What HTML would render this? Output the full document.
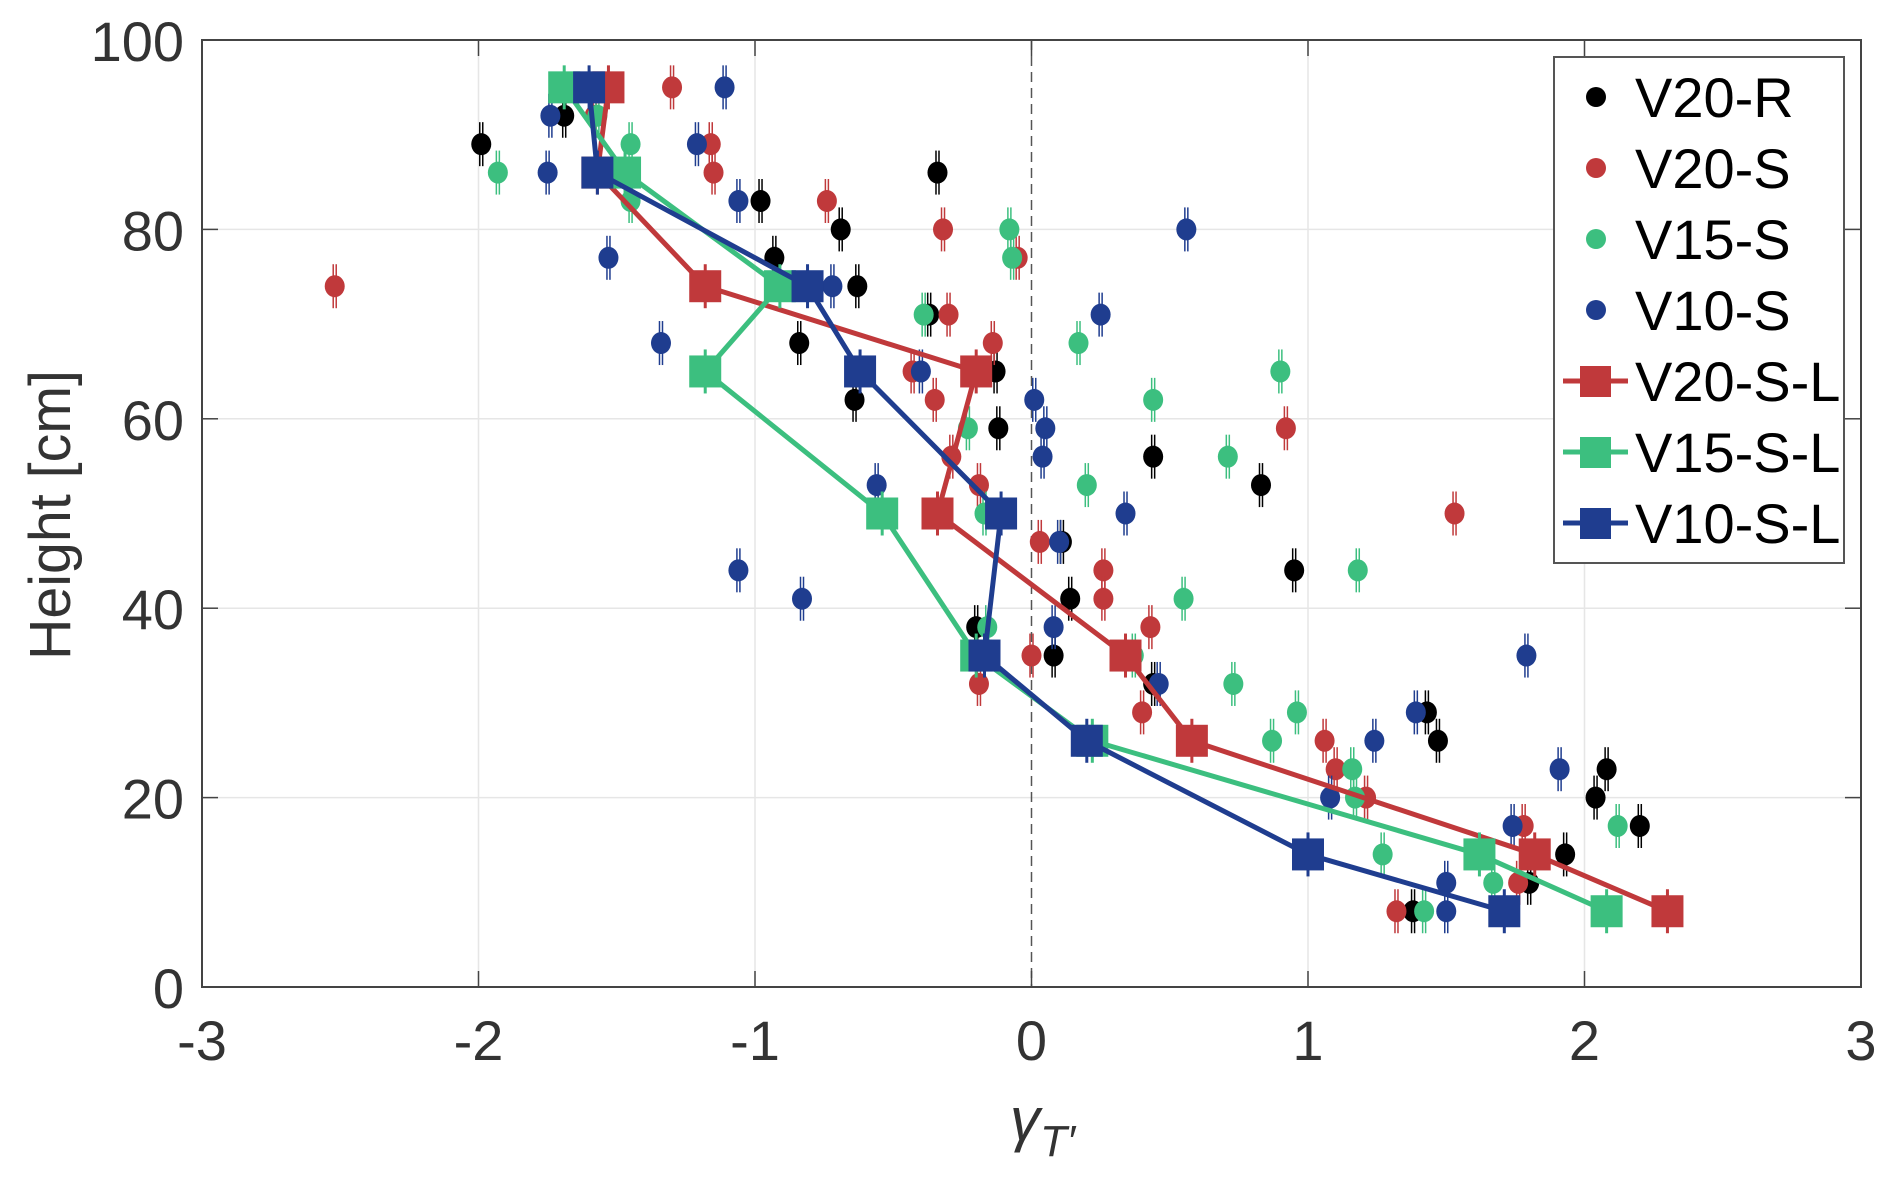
<!DOCTYPE html>
<html><head><meta charset="utf-8"><style>
html,body{margin:0;padding:0;background:#fff;}
svg{display:block;font-family:"Liberation Sans",sans-serif;}
</style></head><body>
<svg id="chart" width="1892" height="1180" viewBox="0 0 1892 1180" xmlns="http://www.w3.org/2000/svg">
<g id="grid"></g>
<g id="data"></g>
<g id="axes"></g>
<g id="legend"></g>
<text x="0" y="0" transform="translate(70,515) rotate(-90)" text-anchor="middle" font-size="58" fill="#333" textLength="290" lengthAdjust="spacingAndGlyphs">Height [cm]</text>
<text x="1010" y="1140" font-size="60" font-style="italic" fill="#333">γ<tspan font-size="44" dy="16">T′</tspan></text>
</svg>
<script>
const xTicks=[-3,-2,-1,0,1,2,3];
const yTicks=[0,20,40,60,80,100];
const heights=[95,86,74,65,50,35,26,14,8];
const v20sL=[-1.53,-1.57,-1.18,-0.20,-0.34,0.34,0.58,1.82,2.30];
const v15sL=[-1.69,-1.47,-0.91,-1.18,-0.54,-0.20,0.22,1.62,2.08];
const v10sL=[-1.60,-1.57,-0.81,-0.62,-0.11,-0.17,0.20,1.00,1.71];
const v20rX=[-1.99,-1.69,-0.98,-0.69,-0.93,-0.63,-0.34,-0.37,-0.84,-0.13,-0.64,-0.12,0.44,0.11,0.14,-0.20,0.08,0.44,0.83,0.95,1.43,1.47,2.08,2.04,2.20,1.93,1.80,1.38];
const v20rY=[89,92,83,80,77,74,86,71,68,65,62,59,56,47,41,38,35,32,53,44,29,26,23,20,17,14,11,8];
const v20sX=[-2.52,-1.30,-1.16,-1.15,-0.74,-0.32,-0.05,-0.30,-0.14,-0.43,-0.35,-0.29,-0.19,0.03,0.26,0.26,0.92,1.53,-1.58,0.43,0.00,-0.19,0.40,1.06,1.10,1.21,1.78,1.76,1.32];
const v20sY=[74,95,89,86,83,80,77,71,68,65,62,56,53,47,44,41,59,50,92,38,35,32,29,26,23,20,17,11,8];
const v15sX=[-1.93,-1.45,-1.45,-0.08,-0.07,-0.39,0.17,-0.23,0.44,0.90,0.71,0.20,-0.17,1.18,-1.57,0.55,-0.16,0.37,0.73,0.87,0.96,1.16,1.17,2.12,1.27,1.67,1.42];
const v15sY=[86,89,83,80,77,71,68,59,62,65,56,53,50,44,92,41,38,35,32,26,29,23,20,17,14,11,8];
const v10sX=[-1.74,-1.75,-1.11,-1.21,-1.06,-1.53,-0.72,0.25,-1.34,-0.40,0.01,0.05,0.04,-0.56,0.34,0.10,-1.06,-0.83,0.56,0.08,0.46,1.39,1.24,1.91,1.08,1.74,1.50,1.50,1.79];
const v10sY=[92,86,95,89,83,77,74,71,68,65,62,59,56,53,50,47,44,41,80,38,32,29,26,23,20,17,11,8,35];

const L=202,R=1861,T=40,B=987;
const sx=v=>L+(v+3)/6*(R-L);
const sy=v=>B-v/100*(B-T);
const NS='http://www.w3.org/2000/svg';
function mk(tag,attrs,parent){const e=document.createElementNS(NS,tag);for(const k in attrs)e.setAttribute(k,attrs[k]);parent.appendChild(e);return e;}
const grid=document.getElementById('grid'),data=document.getElementById('data'),axes=document.getElementById('axes'),legend=document.getElementById('legend');

xTicks.forEach(t=>{
  if(t!==-3&&t!==3&&t!==0){const g=mk('line',{x1:sx(t),x2:sx(t),y1:T,y2:B,stroke:'#e6e6e6','stroke-width':1.5},grid);
  
  }
  const tk=mk('line',{x1:sx(t),x2:sx(t),y1:B,y2:B-16,stroke:'#444','stroke-width':1.5},axes);
  
  
  const tk2=mk('line',{x1:sx(t),x2:sx(t),y1:T,y2:T+16,stroke:'#444','stroke-width':1.5},axes);
  
  
  const lb=mk('text',{x:sx(t),y:1060,'text-anchor':'middle','font-size':56,fill:'#333'},axes);
  
  
  lb.textContent=String(t);
});
yTicks.forEach(t=>{
  if(t!==0&&t!==100){const g=mk('line',{x1:L,x2:R,y1:sy(t),y2:sy(t),stroke:'#e6e6e6','stroke-width':1.5},grid);
  
  }
  const tk=mk('line',{x1:L,x2:L+16,y1:sy(t),y2:sy(t),stroke:'#444','stroke-width':1.5},axes);
  
  
  const tk2=mk('line',{x1:R,x2:R-16,y1:sy(t),y2:sy(t),stroke:'#444','stroke-width':1.5},axes);
  
  
  const lb=mk('text',{x:184,y:sy(t)+21,'text-anchor':'end','font-size':56,fill:'#333'},axes);
  
  
  lb.textContent=String(t);
});
const zl=mk('line',{x1:sx(0),x2:sx(0),y1:T,y2:B,stroke:'#555','stroke-width':1.5,'stroke-dasharray':'10,6'},grid);


const box=mk('rect',{x:L,y:T,width:R-L,height:B-T,fill:'none',stroke:'#444','stroke-width':2},axes);



function scatter(xs,ys,color,name){
  const g=mk('g',{},data);
  
  
  xs.forEach((x,i)=>{
    const cx=sx(x),cy=sy(ys[i]);
    mk('line',{x1:cx-1.5,x2:cx-1.5,y1:cy-22,y2:cy+22,stroke:color,'stroke-width':1.5},g);
    mk('line',{x1:cx+1.5,x2:cx+1.5,y1:cy-22,y2:cy+22,stroke:color,'stroke-width':1.5},g);
    const c=mk('ellipse',{cx:cx,cy:cy,rx:10,ry:11,fill:color},g);
    
    
  });
}
function lineSeries(xs,color,name){
  const g=mk('g',{},data);
  
  
  const pts=xs.map((x,i)=>sx(x)+','+sy(heights[i])).join(' ');
  const pl=mk('polyline',{points:pts,fill:'none',stroke:color,'stroke-width':5,'stroke-linejoin':'round'},g);
  
  
  xs.forEach((x,i)=>{
    const cx=sx(x),cy=sy(heights[i]);
    mk('line',{x1:cx,x2:cx,y1:cy-22,y2:cy+22,stroke:color,'stroke-width':3},g);
    const r=mk('rect',{x:cx-16,y:cy-16,width:32,height:32,fill:color},g);
    
    
  });
}
const C={k:'#000000',r:'#c0393b',g:'#3cbf7f',b:'#1f3d8f'};
scatter(v20rX,v20rY,C.k,'v20-r');
scatter(v20sX,v20sY,C.r,'v20-s');
scatter(v15sX,v15sY,C.g,'v15-s');
scatter(v10sX,v10sY,C.b,'v10-s');
lineSeries(v20sL,C.r,'v20-s-l');
lineSeries(v15sL,C.g,'v15-s-l');
lineSeries(v10sL,C.b,'v10-s-l');

const lb=mk('rect',{x:1554,y:57,width:290,height:506,fill:'#fff',stroke:'#555','stroke-width':2},legend);


const legNames=['V20-R','V20-S','V15-S','V10-S','V20-S-L','V15-S-L','V10-S-L'];
const legCols=[C.k,C.r,C.g,C.b,C.r,C.g,C.b];
legNames.forEach((n,i)=>{
  const y=97+i*71;
  const g=mk('g',{},legend);
  
  
  if(i<4){mk('circle',{cx:1596,cy:y,r:10,fill:legCols[i]},g);}
  else{mk('line',{x1:1563,x2:1628,y1:y,y2:y,stroke:legCols[i],'stroke-width':5},g);
       mk('rect',{x:1580,y:y-15,width:31,height:31,fill:legCols[i]},g);}
  const t=mk('text',{x:1635,y:y+20,'font-size':56,fill:'#000'},g);
  t.textContent=n;
});
</script>
</body></html>
